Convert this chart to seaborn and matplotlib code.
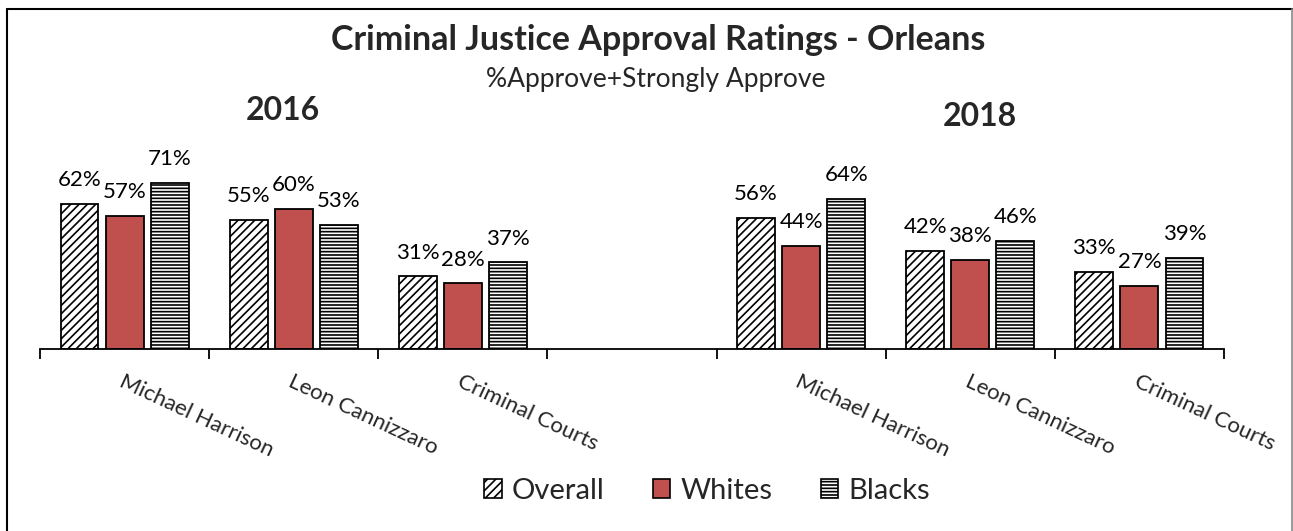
import matplotlib
matplotlib.use("Agg")
import matplotlib.pyplot as plt
import matplotlib.patches as mpatches
from matplotlib.lines import Line2D
import seaborn as sns
import pandas as pd
import numpy as np

# ---- data -------------------------------------------------------------
officials = ["Michael Harrison", "Leon Cannizzaro", "Criminal Courts"]
years = ["2016", "2018"]
groups = ["Overall", "Whites", "Blacks"]

overall_2016 = [0.62, 0.55, 0.31]
whites_2016 = [0.57, 0.60, 0.28]
blacks_2016 = [0.71, 0.53, 0.37]

overall_2018 = [0.56, 0.42, 0.33]
whites_2018 = [0.44, 0.38, 0.27]
blacks_2018 = [0.64, 0.46, 0.39]

# slot order: three officials for 2016, an empty spacer, three for 2018
slots = [f"{years[0]} {o}" for o in officials] + ["gap"] + [f"{years[1]} {o}" for o in officials]
slot_labels = officials + [""] + officials

rows = []
for yr, vals in ((years[0], (overall_2016, whites_2016, blacks_2016)),
                 (years[1], (overall_2018, whites_2018, blacks_2018))):
    for g, series in zip(groups, vals):
        for o, v in zip(officials, series):
            rows.append({"slot": f"{yr} {o}", "group": g, "value": v})
df = pd.DataFrame(rows)

# ---- style ------------------------------------------------------------
sns.set_style("white")
plt.rcParams["font.family"] = ["Lato", "DejaVu Sans"]
plt.rcParams["hatch.linewidth"] = 1.2

W, H = 1293, 531
fig = plt.figure(figsize=(W / 100, H / 100), dpi=100)
ax = fig.add_axes([40 / W, 1 - 349 / H, (1224 - 40) / W, (349 - 115) / H])

red = "#C0504D"
palette = {"Overall": "white", "Whites": red, "Blacks": "white"}
hatches = {"Overall": "////", "Whites": "", "Blacks": "-----"}

sns.barplot(data=df, x="slot", y="value", hue="group", order=slots,
            hue_order=groups, palette=palette, width=0.8, gap=0.16,
            edgecolor="black", linewidth=1.3, saturation=1, ax=ax,
            legend=False, errorbar=None)

for g, cont in zip(groups, ax.containers):
    for bar in cont:
        bar.set_hatch(hatches[g])
        bar.set_edgecolor("black")
    ax.bar_label(cont, labels=[f"{v * 100:.0f}%" for v in cont.datavalues],
                 padding=10, fontsize=16, color="black")

ax.set_ylim(0, 1)
ax.set_xlim(-0.5, len(slots) - 0.5)
ax.set_xlabel("")
ax.set_ylabel("")
ax.set_yticks([])
for s in ("top", "right", "left"):
    ax.spines[s].set_visible(False)
ax.spines["bottom"].set_color("black")
ax.spines["bottom"].set_linewidth(1.3)

# category names start at the slot centre, slanted downward
ax.set_xticks(range(len(slots)))
ax.set_xticklabels(slot_labels, rotation=-25, ha="left", va="top",
                   rotation_mode="anchor", fontsize=16)
ax.tick_params(axis="x", which="major", bottom=False, length=0, pad=16)
ax.set_xticks(np.arange(-0.5, len(slots), 1.0), minor=True)
ax.tick_params(axis="x", which="minor", bottom=True, length=7, width=1.3,
               color="black", direction="out")

# ---- titles -----------------------------------------------------------
fig.text(658 / W, 1 - 40 / H, "Criminal Justice Approval Ratings - Orleans",
         ha="center", va="center", fontsize=24.5, fontweight="bold")
fig.text(656 / W, 1 - 80 / H, "%Approve+Strongly Approve",
         ha="center", va="center", fontsize=19)
fig.text(283 / W, 1 - 111 / H, years[0], ha="center", va="center",
         fontsize=23, fontweight="bold")
fig.text(980 / W, 1 - 116 / H, years[1], ha="center", va="center",
         fontsize=23, fontweight="bold")

# ---- legend -----------------------------------------------------------
handles = [mpatches.Patch(facecolor=palette[g], edgecolor="black",
                          hatch=hatches[g], linewidth=1.2) for g in groups]
fig.legend(handles, groups, loc="center", bbox_to_anchor=(707 / W, 1 - 491 / H),
           ncol=3, frameon=False, fontsize=21, handlelength=0.6,
           handleheight=0.6, handletextpad=0.35, columnspacing=1.65)

# ---- outer frame ------------------------------------------------------
fig.add_artist(Line2D([7 / W, 7 / W], [0, 1 - 9 / H], color="black", lw=1.5,
                      transform=fig.transFigure))
fig.add_artist(Line2D([7 / W, 1292 / W], [1 - 9 / H, 1 - 9 / H], color="black",
                      lw=1.5, transform=fig.transFigure))
fig.add_artist(Line2D([1292 / W, 1292 / W], [0, 1 - 9 / H], color="#888888",
                      lw=1.2, transform=fig.transFigure))

fig.savefig("out.png", dpi=100, facecolor="white")
